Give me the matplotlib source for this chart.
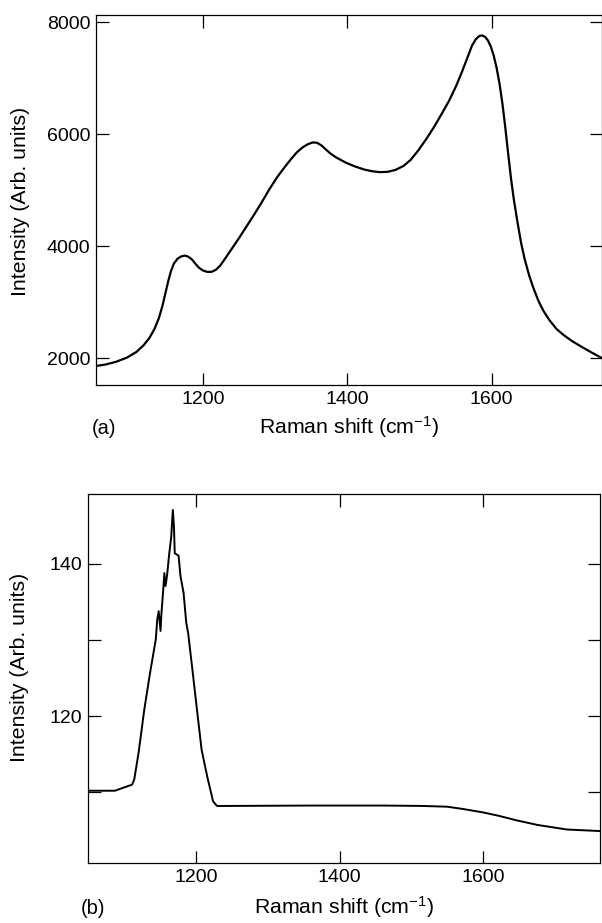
import numpy as np
import matplotlib
matplotlib.use("Agg")
import matplotlib.pyplot as plt
from matplotlib.ticker import FixedLocator, FuncFormatter

plt.rcParams['font.family'] = ['Liberation Sans', 'DejaVu Sans']
plt.rcParams['mathtext.default'] = 'regular'

# (a) spectrum
shift_a = [1052, 1065, 1080, 1095, 1108, 1118, 1126, 1133, 1139, 1144, 1148,
           1152, 1156, 1160, 1165, 1170, 1175, 1180, 1185, 1190, 1195, 1200,
           1206, 1212, 1218, 1224, 1230, 1240, 1250, 1260, 1271, 1282, 1292,
           1303, 1314, 1322, 1330, 1338, 1345, 1352, 1358, 1364, 1370, 1377,
           1385, 1398, 1411, 1424, 1435, 1445, 1456, 1467, 1478, 1488, 1498,
           1509, 1520, 1530, 1541, 1551, 1559, 1567, 1573, 1578, 1583, 1587,
           1591, 1595, 1599, 1603, 1607, 1611, 1615, 1619, 1623, 1627, 1631,
           1636, 1641, 1646, 1652, 1658, 1665, 1672, 1680, 1690, 1700, 1712,
           1725, 1740, 1753]
inten_a = [1860, 1885, 1935, 2010, 2110, 2230, 2360, 2520, 2710, 2930, 3150,
           3370, 3560, 3690, 3775, 3815, 3830, 3810, 3760, 3680, 3610, 3565,
           3540, 3540, 3575, 3650, 3760, 3950, 4140, 4340, 4560, 4790, 5010,
           5230, 5420, 5550, 5670, 5760, 5815, 5850, 5845, 5800, 5730, 5650,
           5580, 5490, 5420, 5365, 5335, 5320, 5325, 5360, 5430, 5540, 5700,
           5900, 6120, 6340, 6590, 6860, 7110, 7380, 7580, 7690, 7750, 7760,
           7735, 7670, 7560, 7400, 7180, 6900, 6550, 6120, 5650, 5200, 4820,
           4420, 4050, 3760, 3480, 3250, 3020, 2840, 2680, 2520, 2410, 2300,
           2200, 2090, 2000]

# (b) spectrum
shift_b = [1050, 1087, 1093, 1111, 1114, 1120, 1128, 1136, 1144, 1146, 1148,
           1150.6, 1151.6, 1154.3, 1155.9, 1157.5, 1159.7, 1162.3, 1165.5,
           1167.7, 1169.3, 1170.4, 1175.7, 1178.4, 1182.7, 1186.4, 1189.1,
           1194.4, 1200.8, 1207.8, 1215.8, 1223.8, 1229.2, 1248, 1355, 1415,
           1462, 1515, 1550, 1572, 1600, 1622, 1647, 1676, 1693, 1717, 1740,
           1763]
inten_b = [110.2, 110.2, 110.4, 111.0, 111.7, 115.2, 120.9, 125.7, 130.1,
           132.7, 133.8, 131.2, 133.2, 136.6, 138.8, 137.1, 138.5, 141.0, 143.6,
           147.1, 144.9, 141.4, 141.1, 138.4, 136.2, 132.3, 130.9, 126.6, 121.3,
           115.6, 112.0, 108.8, 108.2, 108.2, 108.25, 108.25, 108.25, 108.2,
           108.1, 107.8, 107.35, 106.9, 106.3, 105.7, 105.45, 105.1, 105.0,
           104.9]

xticks = [1200, 1400, 1600]
yticks_a = [2000, 4000, 6000, 8000]
yticks_b = [110, 120, 130, 140]
yticklabels_b = {120: '120', 140: '140'}

fig = plt.figure(figsize=(6.02, 9.23), dpi=100)
ax1 = fig.add_axes([96 / 602, 1 - 385 / 923, 506 / 602, 370 / 923])
ax2 = fig.add_axes([88 / 602, 1 - 863 / 923, 512 / 602, 369 / 923])

ax1.plot(shift_a, inten_a, color='black', lw=1.6, solid_joinstyle='round')
ax2.plot(shift_b, inten_b, color='black', lw=1.4, solid_joinstyle='round')

ax1.set_xlim(1052, 1753)
ax1.set_ylim(1520, 8125)
ax2.set_xlim(1049.5, 1763)
ax2.set_ylim(100.7, 149.2)

for ax in (ax1, ax2):
    ax.xaxis.set_major_locator(FixedLocator(xticks))
    ax.tick_params(direction='in', length=9, width=0.9, top=True, right=True,
                   labelsize=14, pad=4)
    for s in ax.spines.values():
        s.set_linewidth(0.9)
    ax.set_xlabel('Raman shift (cm$^{-1}$)', fontsize=15.3)
    ax.xaxis.label.set_verticalalignment('baseline')
    ax.set_ylabel('Intensity (Arb. units)', fontsize=15.3)

ax1.yaxis.set_major_locator(FixedLocator(yticks_a))
ax2.yaxis.set_major_locator(FixedLocator(yticks_b))
ax2.yaxis.set_major_formatter(FuncFormatter(lambda v, p: yticklabels_b.get(int(round(v)), '')))

ax1.xaxis.set_label_coords(0.5, -0.1324)
ax2.xaxis.set_label_coords(0.5, -0.138)
ax1.yaxis.set_label_coords(-0.131, 0.497)
ax2.yaxis.set_label_coords(-0.115, 0.531)

fig.text(92 / 602, 1 - 434 / 923, '(a)', fontsize=14.5, va='baseline', ha='left')
fig.text(81 / 602, 1 - 914 / 923, '(b)', fontsize=14.5, va='baseline', ha='left')

fig.savefig('out.png', dpi=100)
